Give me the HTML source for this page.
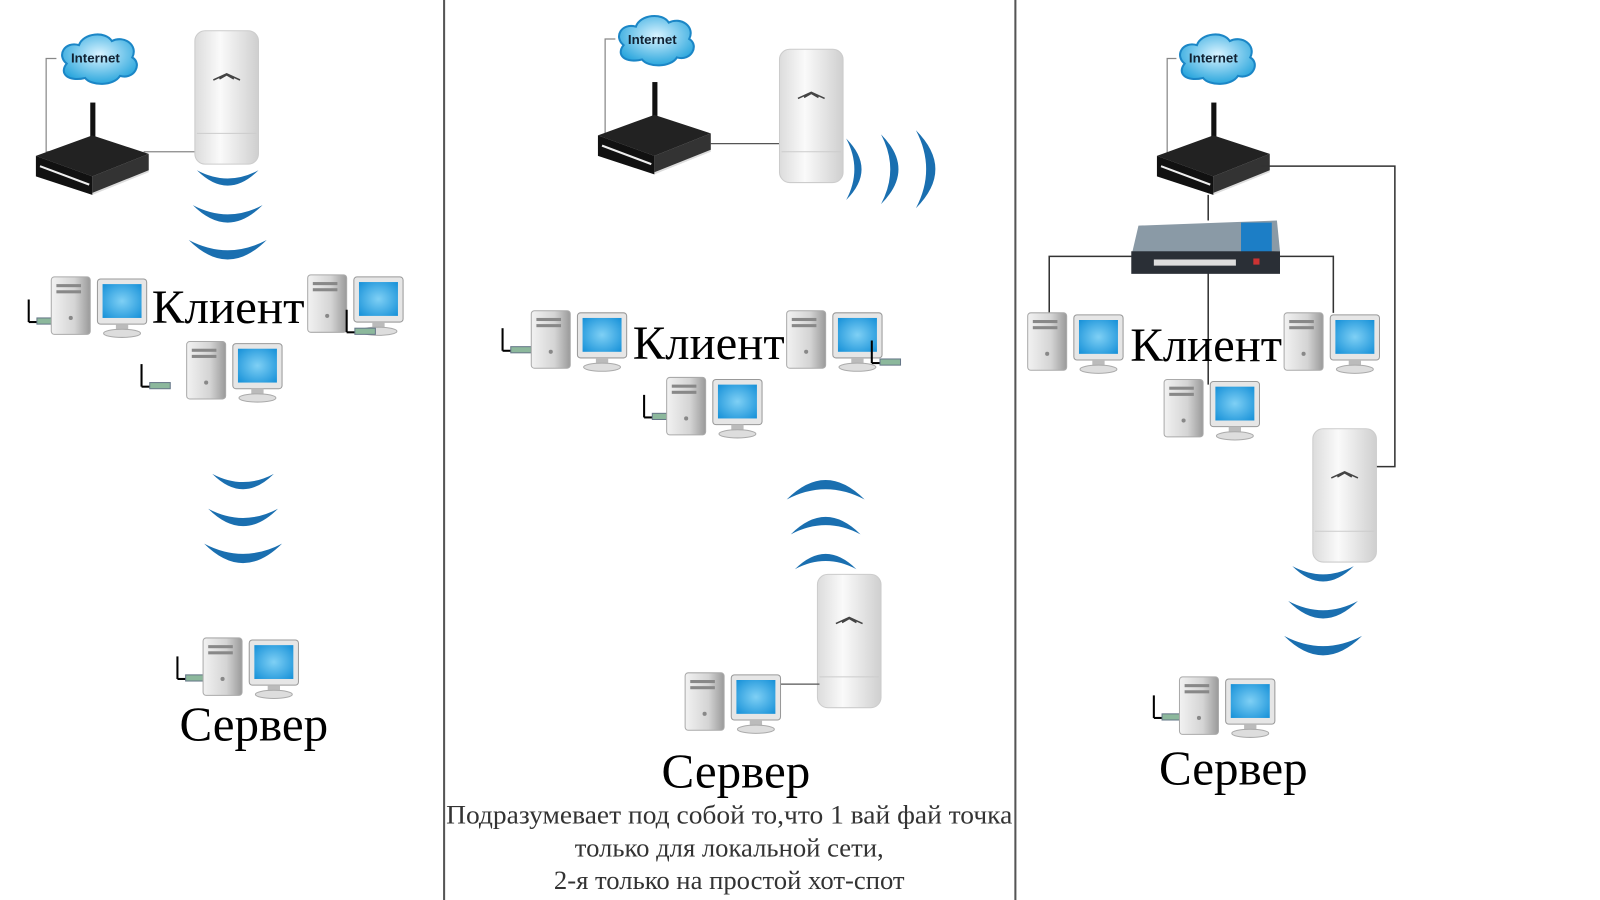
<!DOCTYPE html>
<html><head><meta charset="utf-8"><style>
html,body{margin:0;padding:0;background:#fff;width:1600px;height:900px;overflow:hidden}
svg{display:block}
.t{font-family:"Liberation Serif",serif;fill:#000}
</style></head><body>
<svg width="1600" height="900" viewBox="0 0 1560 877.5" preserveAspectRatio="none" xmlns="http://www.w3.org/2000/svg">
<defs>
<linearGradient id="tw" x1="0" x2="1"><stop offset="0" stop-color="#f2f2f2"/><stop offset="0.6" stop-color="#d4d4d4"/><stop offset="1" stop-color="#9a9a9a"/></linearGradient>
<radialGradient id="scr" cx="0.5" cy="0.5" r="0.7"><stop offset="0" stop-color="#7fd0f5"/><stop offset="1" stop-color="#1590d8"/></radialGradient>
<linearGradient id="ap" x1="0" x2="1"><stop offset="0" stop-color="#dcdcdc"/><stop offset="0.4" stop-color="#fafafa"/><stop offset="1" stop-color="#cfcfcf"/></linearGradient>
<radialGradient id="cl" cx="0.5" cy="0.4" r="0.6"><stop offset="0" stop-color="#d8f3ff"/><stop offset="1" stop-color="#2aa6dd"/></radialGradient>
<symbol id="pc" overflow="visible">
  <rect x="0" y="0" width="38" height="56" rx="3" fill="url(#tw)" stroke="#aaa"/>
  <rect x="5" y="7" width="24" height="3" fill="#888"/><rect x="5" y="13" width="24" height="3" fill="#888"/>
  <circle cx="19" cy="40" r="2" fill="#888"/>
  <rect x="45" y="2" width="48" height="44" rx="3" fill="#e6e6e6" stroke="#999"/>
  <rect x="50" y="7" width="38" height="33" fill="url(#scr)"/>
  <rect x="63" y="46" width="12" height="6" fill="#bbb"/>
  <ellipse cx="69" cy="55" rx="18" ry="4" fill="#ddd" stroke="#aaa"/>
</symbol>
<symbol id="dg" overflow="visible">
  <line x1="0" y1="0" x2="0" y2="22" stroke="#000" stroke-width="2"/>
  <line x1="0" y1="22" x2="8" y2="22" stroke="#000" stroke-width="2"/>
  <rect x="8" y="18" width="20" height="6" fill="#8cb89c" stroke="#678"/>
</symbol>
<symbol id="rt" overflow="visible">
  <rect x="53" y="0" width="5" height="50" fill="#111"/>
  <polygon points="0,55 55,35 110,52 110,68 55,90 0,72" fill="#ddd"/>
  <polygon points="0,52 55,32 110,50 55,72" fill="#222"/>
  <polygon points="0,52 55,72 55,90 0,72" fill="#111"/>
  <polygon points="55,72 110,50 110,66 55,88" fill="#333"/>
  <line x1="4" y1="62" x2="52" y2="80" stroke="#eee" stroke-width="2"/>
</symbol>
<symbol id="ap1" overflow="visible">
  <rect x="0" y="0" width="62" height="130" rx="10" fill="url(#ap)" stroke="#ccc"/>
  <line x1="2" y1="100" x2="60" y2="100" stroke="#ccc"/>
  <path d="M18 48 L31 42 L44 48 M24 47 L31 43 L38 47" stroke="#444" fill="none" stroke-width="1.5"/>
</symbol>
<symbol id="cld" overflow="visible">
  <path d="M10 30 C0 22 8 8 22 12 C26 0 48 -2 54 8 C66 2 80 12 74 24 C84 30 76 46 62 42 C56 52 34 52 28 44 C12 48 2 40 10 30Z" fill="url(#cl)" stroke="#1b86c6" stroke-width="2"/>
  <text x="38" y="29" text-anchor="middle" font-family="Liberation Sans,sans-serif" font-weight="bold" font-size="13" fill="#123">Internet</text>
</symbol>
<symbol id="wv" overflow="visible">
  <path d="M-30 0 Q0 30 30 0 Q0 16 -30 0Z" fill="#1a6fb0"/>
  <path d="M-34 34 Q0 68 34 34 Q0 52 -34 34Z" fill="#1a6fb0"/>
  <path d="M-38 68 Q0 106 38 68 Q0 88 -38 68Z" fill="#1a6fb0"/>
</symbol>
</defs>

<line x1="433" y1="0" x2="433" y2="882" stroke="#555" stroke-width="2"/>
<line x1="990" y1="0" x2="990" y2="882" stroke="#555" stroke-width="2"/>

<!-- Panel 1 -->
<polyline points="55,57 45,57 45,148 60,148" fill="none" stroke="#888" stroke-width="1.2"/>
<line x1="140" y1="148" x2="192" y2="148" stroke="#888" stroke-width="1.2"/>
<use href="#cld" x="55" y="32"/>
<use href="#rt" x="35" y="100"/>
<use href="#ap1" x="190" y="30"/>
<use href="#wv" x="222" y="166"/>
<use href="#dg" x="28" y="292"/>
<use href="#pc" x="50" y="270"/>
<use href="#pc" x="300" y="268"/>
<use href="#dg" x="338" y="302"/>
<use href="#dg" x="138" y="355"/>
<use href="#pc" x="182" y="333"/>
<text class="t" x="148" y="315" font-size="46" textLength="149" lengthAdjust="spacingAndGlyphs">Клиент</text>
<use href="#wv" x="237" y="462"/>
<use href="#dg" x="173" y="640"/>
<use href="#pc" x="198" y="622"/>
<text class="t" x="175" y="722" font-size="47" textLength="145" lengthAdjust="spacingAndGlyphs">Сервер</text>

<!-- Panel 2 -->
<polyline points="600,38 590,38 590,130 600,130" fill="none" stroke="#888" stroke-width="1.2"/>
<line x1="685" y1="140" x2="762" y2="140" stroke="#555" stroke-width="1.2"/>
<use href="#cld" x="598" y="14"/>
<use href="#rt" x="583" y="80"/>
<use href="#ap1" x="760" y="48"/>
<g transform="translate(825,165) rotate(-90)"><use href="#wv" x="0" y="0"/></g>
<use href="#dg" x="490" y="320"/>
<use href="#pc" x="518" y="303"/>
<use href="#pc" x="767" y="303"/>
<use href="#dg" x="850" y="332"/>
<use href="#dg" x="628" y="385"/>
<use href="#pc" x="650" y="368"/>
<text class="t" x="617" y="350" font-size="46" textLength="148" lengthAdjust="spacingAndGlyphs">Клиент</text>
<g transform="translate(805,555) rotate(180)"><use href="#wv" x="0" y="0"/></g>
<use href="#ap1" x="797" y="560"/>
<line x1="755" y1="667" x2="799" y2="667" stroke="#555" stroke-width="1.2"/>
<use href="#pc" x="668" y="656"/>
<text class="t" x="645" y="768" font-size="47" textLength="145" lengthAdjust="spacingAndGlyphs">Сервер</text>
<g class="t" font-size="26" text-anchor="middle" style="fill:#333">
<text x="711" y="803" textLength="552" lengthAdjust="spacingAndGlyphs">Подразумевает под собой то,что 1 вай фай точка</text>
<text x="711" y="835">только для локальной сети,</text>
<text x="711" y="867">2-я только на простой хот-спот</text>
</g>

<!-- Panel 3 -->
<polyline points="1147,57 1138,57 1138,150 1150,150" fill="none" stroke="#888" stroke-width="1.2"/>
<use href="#cld" x="1145" y="32"/>
<use href="#rt" x="1128" y="100"/>
<polyline points="1230,162 1360,162 1360,455 1340,455" fill="none" stroke="#333" stroke-width="1.5"/>
<line x1="1178" y1="190" x2="1178" y2="215" stroke="#333" stroke-width="1.5"/>
<polyline points="1023,305 1023,250 1300,250 1300,305" fill="none" stroke="#333" stroke-width="1.5"/>
<line x1="1178" y1="265" x2="1178" y2="375" stroke="#333" stroke-width="1.5"/>
<g>
  <polygon points="1110,220 1245,215 1248,245 1103,250" fill="#8a9aa6"/>
  <rect x="1210" y="217" width="30" height="30" fill="#1c7ec6"/>
  <rect x="1103" y="245" width="145" height="22" fill="#2a2f36"/>
  <g fill="#ddd"><rect x="1125" y="253" width="80" height="6"/></g>
  <rect x="1222" y="252" width="6" height="6" fill="#c33"/>
</g>
<use href="#pc" x="1002" y="305"/>
<use href="#pc" x="1252" y="305"/>
<use href="#pc" x="1135" y="370"/>
<text class="t" x="1102" y="352" font-size="46" textLength="148" lengthAdjust="spacingAndGlyphs">Клиент</text>
<use href="#ap1" x="1280" y="418"/>
<use href="#wv" x="1290" y="552"/>
<use href="#dg" x="1125" y="678"/>
<use href="#pc" x="1150" y="660"/>
<text class="t" x="1130" y="765" font-size="47" textLength="145" lengthAdjust="spacingAndGlyphs">Сервер</text>
</svg>
</body></html>
